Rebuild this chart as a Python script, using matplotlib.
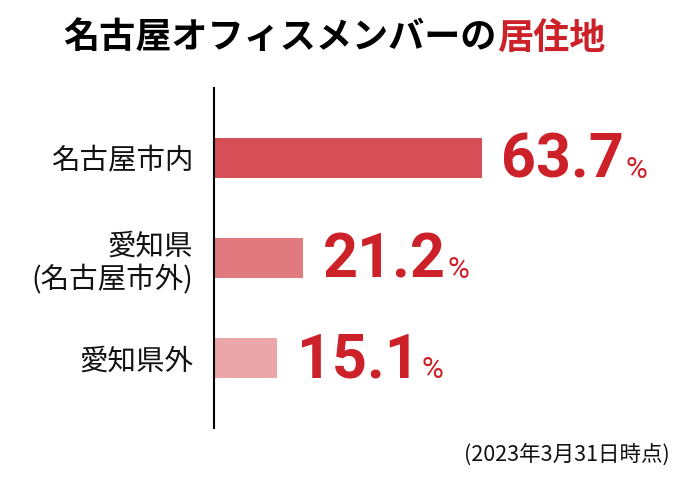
import matplotlib
matplotlib.use("Agg")
import matplotlib.pyplot as plt

# ---- data ----
categories = ["名古屋市内", "愛知県\n(名古屋市外)", "愛知県外"]
values = [63.7, 21.2, 15.1]
title_black = "名古屋オフィスメンバーの"
title_red = "居住地"
footnote = "(2023年3月31日時点)"

bar_colors = ["#d64f57", "#e07a7e", "#eba6a9"]
accent = "#cd2129"
CJK = ["Noto Sans CJK JP", "DejaVu Sans"]
NUM = ["Roboto", "DejaVu Sans"]

plt.rcParams["font.family"] = CJK

W, H = 680, 480
fig = plt.figure(figsize=(W / 100, H / 100), dpi=100)
fig.patch.set_facecolor("white")

ax = fig.add_axes([214 / W, 52 / H, 466 / W, 340 / H])
ax.set_facecolor("none")

ypos = list(range(len(categories)))
ax.barh(ypos, values, height=0.4, color=bar_colors, zorder=2)

ax.set_xlim(0, 466 / 4.2)
ax.set_ylim(2.7, -0.7)

for s in ["top", "right", "bottom"]:
    ax.spines[s].set_visible(False)
ax.spines["left"].set_linewidth(1.5)
ax.spines["left"].set_color("black")
ax.set_xticks([])
ax.set_yticks(ypos)
ax.set_yticklabels(categories, fontsize=20.5, color="#111111", family=CJK,
                   linespacing=1.15)
ax.tick_params(axis="y", length=0, pad=15)

for i, v in enumerate(values):
    t = ax.annotate(f"{v:.1f}", xy=(v, i + 0.2), xytext=(14, 0),
                    textcoords="offset points", ha="left", va="baseline",
                    fontsize=44, fontweight="bold", family=NUM, color=accent)
    ax.annotate("%", xy=(1, i + 0.2), xycoords=(t, "data"), xytext=(1.5, 0),
                textcoords="offset points", ha="left", va="baseline",
                fontsize=21.5, family=NUM, color=accent)

# title in two colours
xb = 497 / W
yt = 1 - 38.5 / H
fig.text(xb, yt, title_black, ha="right", va="center", fontsize=26,
         fontweight="bold", color="black", family=CJK)
fig.text(xb, yt, title_red, ha="left", va="center", fontsize=26,
         fontweight="bold", color=accent, family=CJK)

fig.text(670 / W, 1 - 455 / H, footnote, ha="right", va="center",
         fontsize=15.5, color="#111111", family=CJK)

fig.savefig("out.png", dpi=100)
